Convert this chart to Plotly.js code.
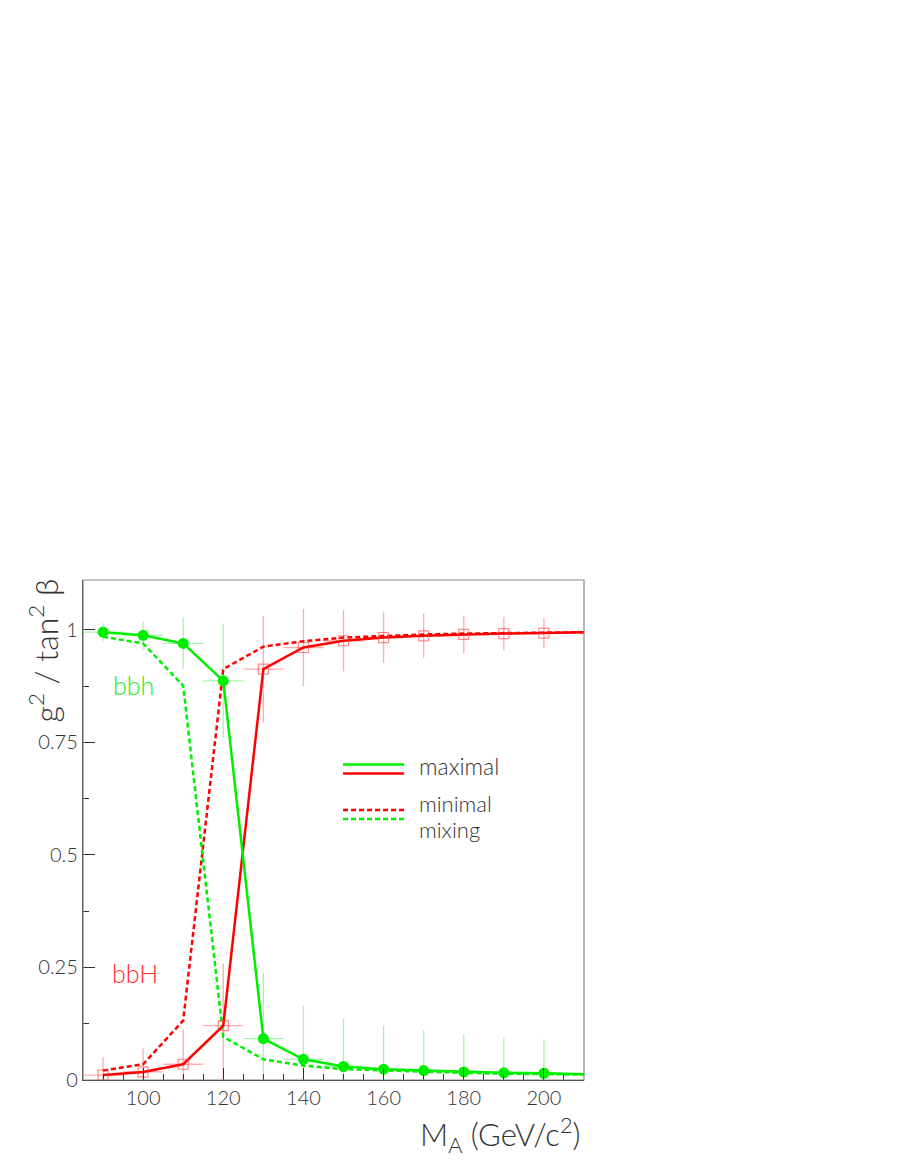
<!DOCTYPE html>
<html>
<head>
<meta charset="utf-8">
<script src="https://cdn.plot.ly/plotly-3.0.1.min.js"></script>
<style>html,body{margin:0;padding:0;background:#fff;}#chart{width:900px;height:1164px;}</style>
</head>
<body>
<div id="chart"></div>
<script>
// Mass points with markers / error bars
const massPts = [90, 100, 110, 120, 130, 140, 150, 160, 170, 180, 190, 200];
// Mass points for the curves (extend to 210)
const massLine = [90, 100, 110, 120, 130, 140, 150, 160, 170, 180, 190, 200, 210];

// maximal mixing, bbh (green solid)
const bbhMax = [0.995, 0.988, 0.970, 0.887, 0.092, 0.046, 0.030, 0.024, 0.021, 0.018, 0.016, 0.015, 0.013];
const bbhMaxErr = [0.020, 0.031, 0.057, 0.127, 0.146, 0.119, 0.107, 0.097, 0.089, 0.083, 0.079, 0.075];
// maximal mixing, bbH (red solid)
const bbHMax = [0.011, 0.018, 0.035, 0.121, 0.913, 0.961, 0.976, 0.983, 0.987, 0.990, 0.992, 0.993, 0.995];
const bbHMaxErr = [0.039, 0.052, 0.076, 0.138, 0.118, 0.086, 0.068, 0.056, 0.049, 0.042, 0.037, 0.033];
// minimal mixing, bbh (green dashed)
const bbhMin = [0.985, 0.970, 0.876, 0.096, 0.046, 0.032, 0.024, 0.021, 0.018, 0.016, 0.014, 0.013, 0.012];
// minimal mixing, bbH (red dashed)
const bbHMin = [0.021, 0.035, 0.132, 0.913, 0.963, 0.975, 0.983, 0.987, 0.990, 0.992, 0.993, 0.994, 0.995];

const xHalfWidth = 5;
const xTicks = [100, 120, 140, 160, 180, 200];
const yTicks = [0, 0.25, 0.5, 0.75, 1];
const yTickText = ['0', '0.25', '0.5', '0.75', '1'];

const GREEN = '#00ee00';
const RED = '#ff0000';
const GREEN_ERR = 'rgba(60,235,60,0.45)';
const RED_ERR = 'rgba(255,70,70,0.45)';

const maxPart = a => a.slice(0, massPts.length);

const traces = [
  { x: massPts, y: maxPart(bbHMax), type: 'scatter', mode: 'markers',
    marker: { size: 1, color: 'rgba(0,0,0,0)' },
    error_y: { type: 'data', array: bbHMaxErr, color: RED_ERR, thickness: 1.3, width: 0 },
    error_x: { type: 'constant', value: xHalfWidth, color: RED_ERR, thickness: 1.3, width: 0 },
    showlegend: false, hoverinfo: 'skip' },
  { x: massPts, y: maxPart(bbhMax), type: 'scatter', mode: 'markers',
    marker: { size: 1, color: 'rgba(0,0,0,0)' },
    error_y: { type: 'data', array: bbhMaxErr, color: GREEN_ERR, thickness: 1.3, width: 0 },
    error_x: { type: 'constant', value: xHalfWidth, color: GREEN_ERR, thickness: 1.3, width: 0 },
    showlegend: false, hoverinfo: 'skip' },
  { x: massLine, y: bbHMin, type: 'scatter', mode: 'lines',
    line: { color: RED, width: 2.5, dash: '5px,3px' }, showlegend: false },
  { x: massLine, y: bbhMin, type: 'scatter', mode: 'lines',
    line: { color: GREEN, width: 2.5, dash: '5px,3px' }, showlegend: false },
  { x: massLine, y: bbHMax, type: 'scatter', mode: 'lines',
    line: { color: RED, width: 2.5 }, showlegend: false },
  { x: massLine, y: bbhMax, type: 'scatter', mode: 'lines',
    line: { color: GREEN, width: 2.5 }, showlegend: false },
  { x: massPts, y: maxPart(bbHMax), type: 'scatter', mode: 'markers',
    marker: { symbol: 'square-open', size: 10, color: 'rgba(255,60,60,0.6)', line: { width: 1.2 } },
    showlegend: false },
  { x: massPts, y: maxPart(bbhMax), type: 'scatter', mode: 'markers',
    marker: { symbol: 'circle', size: 11, color: GREEN },
    showlegend: false }
];

const FAM = 'Lato, "DejaVu Sans", sans-serif';
const tickFont = { family: FAM, size: 20, color: '#333', weight: 300 };

const layout = {
  width: 900, height: 1164,
  margin: { l: 83.3, r: 316, t: 580, b: 84, pad: 0 },
  paper_bgcolor: '#fff', plot_bgcolor: '#fff',
  showlegend: false,
  xaxis: {
    range: [85, 210], showgrid: false, zeroline: false,
    showline: true, linecolor: '#222', linewidth: 1.2,
    tickmode: 'array', tickvals: xTicks, ticktext: xTicks.map(String),
    ticks: 'inside', ticklen: 12, tickcolor: '#333', tickwidth: 1,
    minor: { dtick: 5, tick0: 0, ticks: 'inside', ticklen: 6, tickcolor: '#333', tickwidth: 1 },
    tickfont: tickFont
  },
  yaxis: {
    range: [0, 1.111], showgrid: false, zeroline: false,
    showline: true, linecolor: '#222', linewidth: 1.2,
    tickmode: 'array', tickvals: yTicks, ticktext: yTickText,
    ticks: 'inside', ticklen: 12, tickcolor: '#333', tickwidth: 1,
    minor: { dtick: 0.125, tick0: 0, ticks: 'inside', ticklen: 6, tickcolor: '#333', tickwidth: 1 },
    tickfont: tickFont
  },
  shapes: [
    { type: 'rect', xref: 'paper', yref: 'paper', x0: 0, x1: 1, y0: 0, y1: 1,
      line: { color: '#888', width: 1.2 }, fillcolor: 'rgba(0,0,0,0)' },
    { type: 'line', xref: 'paper', yref: 'paper', x0: 0.519, x1: 0.641, y0: 0.631, y1: 0.631,
      line: { color: GREEN, width: 2.5 } },
    { type: 'line', xref: 'paper', yref: 'paper', x0: 0.519, x1: 0.641, y0: 0.613, y1: 0.613,
      line: { color: RED, width: 2.5 } },
    { type: 'line', xref: 'paper', yref: 'paper', x0: 0.519, x1: 0.641, y0: 0.540, y1: 0.540,
      line: { color: RED, width: 2.5, dash: '5px,3px' } },
    { type: 'line', xref: 'paper', yref: 'paper', x0: 0.519, x1: 0.641, y0: 0.522, y1: 0.522,
      line: { color: GREEN, width: 2.5, dash: '5px,3px' } }
  ],
  annotations: [
    { text: 'bbh', x: 97.7, y: 0.878, xref: 'x', yref: 'y', showarrow: false,
      font: { family: FAM, size: 25, color: '#22ee22', weight: 300 } },
    { text: 'bbH', x: 98, y: 0.238, xref: 'x', yref: 'y', showarrow: false,
      font: { family: FAM, size: 25, color: '#ff2a2a', weight: 300 } },
    { text: 'maximal', x: 0.666, y: 0.628, xref: 'paper', yref: 'paper', xanchor: 'left', yanchor: 'middle',
      showarrow: false, font: { family: FAM, size: 23, color: '#333', weight: 300 } },
    { text: 'minimal', x: 0.666, y: 0.553, xref: 'paper', yref: 'paper', xanchor: 'left', yanchor: 'middle',
      showarrow: false, font: { family: FAM, size: 22, color: '#333', weight: 300 } },
    { text: 'mixing', x: 0.666, y: 0.502, xref: 'paper', yref: 'paper', xanchor: 'left', yanchor: 'middle',
      showarrow: false, font: { family: FAM, size: 22, color: '#333', weight: 300 } },
    { text: 'g<sup>2</sup> / tan<sup>2</sup> β', x: -0.079, y: 1.008, xref: 'paper', yref: 'paper',
      xanchor: 'center', yanchor: 'top', textangle: -90, showarrow: false,
      font: { family: FAM, size: 32, color: '#333', weight: 300 } },
    { text: 'M<sub>A</sub> (GeV/c<sup>2</sup>)', x: 0.998, y: -0.11, xref: 'paper', yref: 'paper',
      xanchor: 'right', yanchor: 'middle', showarrow: false,
      font: { family: FAM, size: 31, color: '#333', weight: 300 } }
  ]
};

Plotly.newPlot('chart', traces, layout, { staticPlot: true, displayModeBar: false });
</script>
</body>
</html>
